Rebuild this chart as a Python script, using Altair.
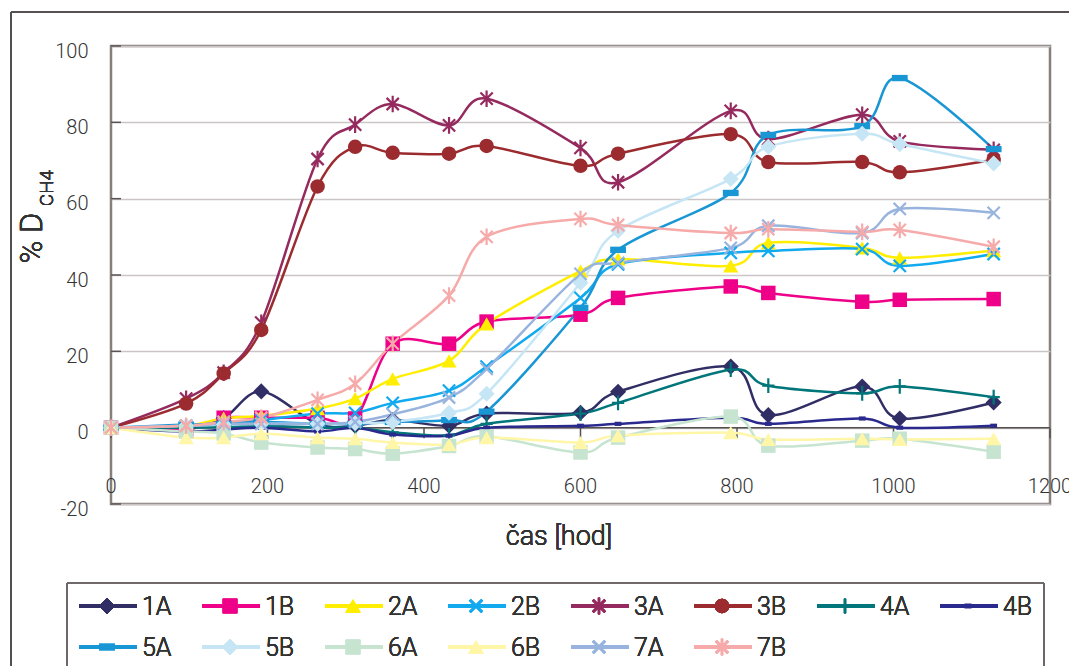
import altair as alt
import pandas as pd

# sampling times [h]
hours = [0, 96, 144, 192, 264, 312, 360, 432, 480, 600, 648, 792, 840, 960, 1008, 1128]

# % D CH4 for each sample
s1A = [0, 0, 2.5, 9.5, 1.0, 0.5, 2.0, 0.5, 3.7, 3.9, 9.4, 16.0, 3.3, 10.8, 2.4, 6.6]
s1B = [0, -0.5, 2.6, 2.6, 2.6, 2.4, 22.0, 22.0, 27.8, 29.6, 34.0, 37.0, 35.3, 33.0, 33.5, 33.7]
s2A = [0, 0.5, 2.5, 3.1, 5.0, 7.6, 12.8, 17.5, 27.2, 41.0, 44.2, 42.4, 48.4, 47.1, 44.5, 46.4]
s2B = [0, 0.5, 1.5, 2.0, 3.7, 3.9, 6.5, 9.7, 16.0, 34.0, 42.8, 45.8, 46.3, 46.8, 42.4, 45.5]
s3A = [0, 7.6, 14.4, 27.5, 70.4, 79.4, 84.8, 79.2, 86.2, 73.3, 64.3, 83.0, 75.6, 82.0, 75.0, 72.8]
s3B = [0, 6.3, 14.2, 25.6, 63.2, 73.6, 72.0, 71.8, 73.8, 68.6, 71.8, 76.9, 69.6, 69.6, 66.9, 70.2]
s4A = [0, 0, 0.2, 0.5, 0, 0, -1.2, -2.0, 1.0, 3.7, 6.5, 15.2, 11.0, 9.0, 10.8, 8.0]
s4B = [0, -1.0, -0.5, 0, -1.0, 0, -1.8, -2.1, 0, 0.5, 1.0, 2.6, 1.0, 2.4, 0, 0.5]
s5A = [0, 0.8, 1.0, 1.5, 1.0, 1.0, 1.5, 2.0, 4.2, 31.4, 46.6, 61.5, 76.7, 79.0, 91.6, 73.0]
s5B = [0, 0.5, 0.8, 1.0, 1.0, 1.2, 1.5, 3.9, 8.9, 38.0, 51.6, 65.2, 73.6, 77.0, 74.3, 69.2]
s6A = [0, -1.0, -1.5, -3.9, -5.2, -5.6, -6.8, -4.8, -2.3, -6.5, -2.6, 2.9, -4.7, -3.4, -2.9, -6.3]
s6B = [0, -2.6, -2.6, -1.6, -2.6, -2.9, -3.9, -4.4, -2.6, -3.9, -2.1, -1.3, -3.1, -2.9, -3.1, -2.9]
s7A = [0, 0.5, 1.0, 1.0, 1.0, 1.5, 3.5, 7.9, 15.4, 40.3, 43.2, 47.1, 52.9, 51.0, 57.3, 56.3]
s7B = [0, 0.5, 1.5, 2.6, 7.3, 11.5, 22.0, 34.6, 50.0, 54.7, 53.1, 51.0, 52.0, 51.3, 51.8, 47.4]

names = ["1A", "1B", "2A", "2B", "3A", "3B", "4A", "4B",
         "5A", "5B", "6A", "6B", "7A", "7B"]
series = [s1A, s1B, s2A, s2B, s3A, s3B, s4A, s4B, s5A, s5B, s6A, s6B, s7A, s7B]
colors = ["#302e64", "#ee0088", "#ffee00", "#12aaee", "#952a5e", "#9b2b2f", "#00767a",
          "#2a2a8e", "#1996d4", "#c6e6f6", "#c6e4d0", "#fff6a8", "#98b4de", "#f6aaaa"]

X_PATH = "M-1,-1L1,1M-1,1L1,-1"
STAR_PATH = "M-1,-1L1,1M-1,1L1,-1M0,-1.35L0,1.35"
PLUS_PATH = "M-1,0L1,0M0,-1.2L0,1.2"
DASH_PATH = "M-1,-0.4L1,-0.4L1,0.4L-1,0.4Z"
SMALL_DASH_PATH = "M-0.65,-0.4L0.65,-0.4L0.65,0.4L-0.65,0.4Z"

# marker: (shape, filled, size)
markers = [
    ("diamond", True, 260),
    ("square", True, 210),
    ("triangle-up", True, 230),
    (X_PATH, False, 150),
    (STAR_PATH, False, 150),
    ("circle", True, 210),
    (PLUS_PATH, False, 150),
    (SMALL_DASH_PATH, True, 110),
    (DASH_PATH, True, 250),
    ("diamond", True, 260),
    ("square", True, 210),
    ("triangle-up", True, 230),
    (X_PATH, False, 150),
    (STAR_PATH, False, 150),
]

x_ticks = [0, 200, 400, 600, 800, 1000, 1200]
y_ticks = [-20, 0, 20, 40, 60, 80, 100]

W, H = 939, 458
FONT = "Roboto"
FW = 300
TXT = "#333333"
FRAME = "#877f7c"

xs = alt.Scale(domain=[0, 1200], nice=False, zero=False)
ys = alt.Scale(domain=[-20, 100], nice=False, zero=False)
yax = alt.Axis(values=y_ticks, grid=True, gridColor="#cbc5c5", gridWidth=1.5,
               domain=False, ticks=False, tickSize=0, labelPadding=23,
               labelFont=FONT, labelFontWeight=FW, labelFontSize=20, labelColor=TXT,
               labelOffset=5, labelExpr="'' + datum.value", title=None)


def Y(field):
    return alt.Y(field, scale=ys, axis=yax)


def X(field):
    return alt.X(field, scale=xs, axis=None)


layers = []

# short inner ticks on the value axis
ytick_df = pd.DataFrame({"t": y_ticks})
layers.append(
    alt.Chart(ytick_df).mark_rule(color="#5a5353", strokeWidth=1.5).encode(
        y=Y("t:Q"), x=alt.value(0), x2=alt.value(10),
    )
)

# zero line with downward ticks
zero_df = pd.DataFrame({"a": [0], "b": [1200], "y": [0]})
layers.append(
    alt.Chart(zero_df).mark_rule(color="#555050", strokeWidth=1.5).encode(
        x=X("a:Q"), x2="b:Q", y=Y("y:Q"),
    )
)
xt_df = pd.DataFrame({"t": x_ticks, "y0": [0] * 7, "y1": [-2.8] * 7})
layers.append(
    alt.Chart(xt_df).mark_rule(color="#555050", strokeWidth=1.5).encode(
        x=X("t:Q"), y=Y("y0:Q"), y2="y1:Q",
    )
)
# x tick labels sitting inside the bottom of the frame
layers.append(
    alt.Chart(xt_df).mark_text(font=FONT, fontWeight=FW, fontSize=20, color=TXT,
                               baseline="middle").encode(
        x=X("t:Q"), y=alt.value(H - 17), text="t:Q",
    )
)

# series lines
frames = []
for name, vals in zip(names, series):
    frames.append(pd.DataFrame({"h": hours, "v": vals, "s": name}))

for df, col in zip(frames, colors):
    layers.append(
        alt.Chart(df).mark_line(interpolate="cardinal", color=col, strokeWidth=2.5).encode(
            x=X("h:Q"), y=Y("v:Q"),
        )
    )

# series markers
for df, col, (shape, filled, size) in zip(frames, colors, markers):
    layers.append(
        alt.Chart(df).mark_point(shape=shape, filled=filled, size=size, color=col,
                                 opacity=1, strokeWidth=2.2).encode(
            x=X("h:Q"), y=Y("v:Q"),
        )
    )

# axis titles
layers.append(alt.Chart(ytick_df).mark_text(
    text="% D", font=FONT, fontWeight=FW, fontSize=31, color=TXT, angle=270,
    align="center", baseline="middle").encode(x=alt.value(-78), y=alt.value(192)))
layers.append(alt.Chart(ytick_df).mark_text(
    text="CH4", font=FONT, fontWeight=FW, fontSize=19, color=TXT, angle=270,
    align="center", baseline="middle").encode(x=alt.value(-64), y=alt.value(142)))
layers.append(alt.Chart(ytick_df).mark_text(
    text="čas [hod]", font=FONT, fontWeight=FW, fontSize=27, color=TXT,
    align="center", baseline="middle").encode(x=alt.value(448), y=alt.value(491)))

# legend box (open at the bottom edge of the page)
LB_TOP, LB_LEFT, LB_RIGHT, LB_BOTTOM = 537, -44, 933, 620
layers.append(alt.Chart(ytick_df).mark_rule(color="#6e6868", strokeWidth=1.2).encode(
    x=alt.value(LB_LEFT), x2=alt.value(LB_RIGHT), y=alt.value(LB_TOP)))
layers.append(alt.Chart(ytick_df).mark_rule(color="#6e6868", strokeWidth=1.2).encode(
    x=alt.value(LB_LEFT), y=alt.value(LB_TOP), y2=alt.value(LB_BOTTOM)))
layers.append(alt.Chart(ytick_df).mark_rule(color="#6e6868", strokeWidth=1.2).encode(
    x=alt.value(LB_RIGHT), y=alt.value(LB_TOP), y2=alt.value(LB_BOTTOM)))

# outer figure border
layers.append(alt.Chart(ytick_df).mark_rule(color="#555050", strokeWidth=1.2).encode(
    x=alt.value(-100), x2=alt.value(960), y=alt.value(-34)))
layers.append(alt.Chart(ytick_df).mark_rule(color="#555050", strokeWidth=1.2).encode(
    x=alt.value(-100), y=alt.value(-34), y2=alt.value(620)))

# legend entries: 8 columns, 2 rows
COL_W, ROW0, ROW_H, X0 = 123, 560, 41, -32
for i, (name, col, (shape, filled, size)) in enumerate(zip(names, colors, markers)):
    cx = X0 + (i % 8) * COL_W
    cy = ROW0 + (i // 8) * ROW_H
    layers.append(alt.Chart(ytick_df).mark_rule(color=col, strokeWidth=3).encode(
        x=alt.value(cx), x2=alt.value(cx + 58), y=alt.value(cy)))
    layers.append(alt.Chart(ytick_df).mark_point(
        shape=shape, filled=filled, size=size, color=col, opacity=1, strokeWidth=2.2
    ).encode(x=alt.value(cx + 28), y=alt.value(cy)))
    layers.append(alt.Chart(ytick_df).mark_text(
        text=name, font=FONT, fontWeight=FW, fontSize=25, color=TXT, align="left",
        baseline="middle"
    ).encode(x=alt.value(cx + 63), y=alt.value(cy + 1)))

chart = alt.layer(*layers).properties(
    width=W, height=H,
    autosize=alt.AutoSizeParams(type="none"),
    padding={"left": 111, "top": 46, "right": 19, "bottom": 162},
).configure_view(stroke=FRAME, strokeWidth=2.5)

chart.save("out.html", embed_options={"renderer": "svg", "actions": False})
